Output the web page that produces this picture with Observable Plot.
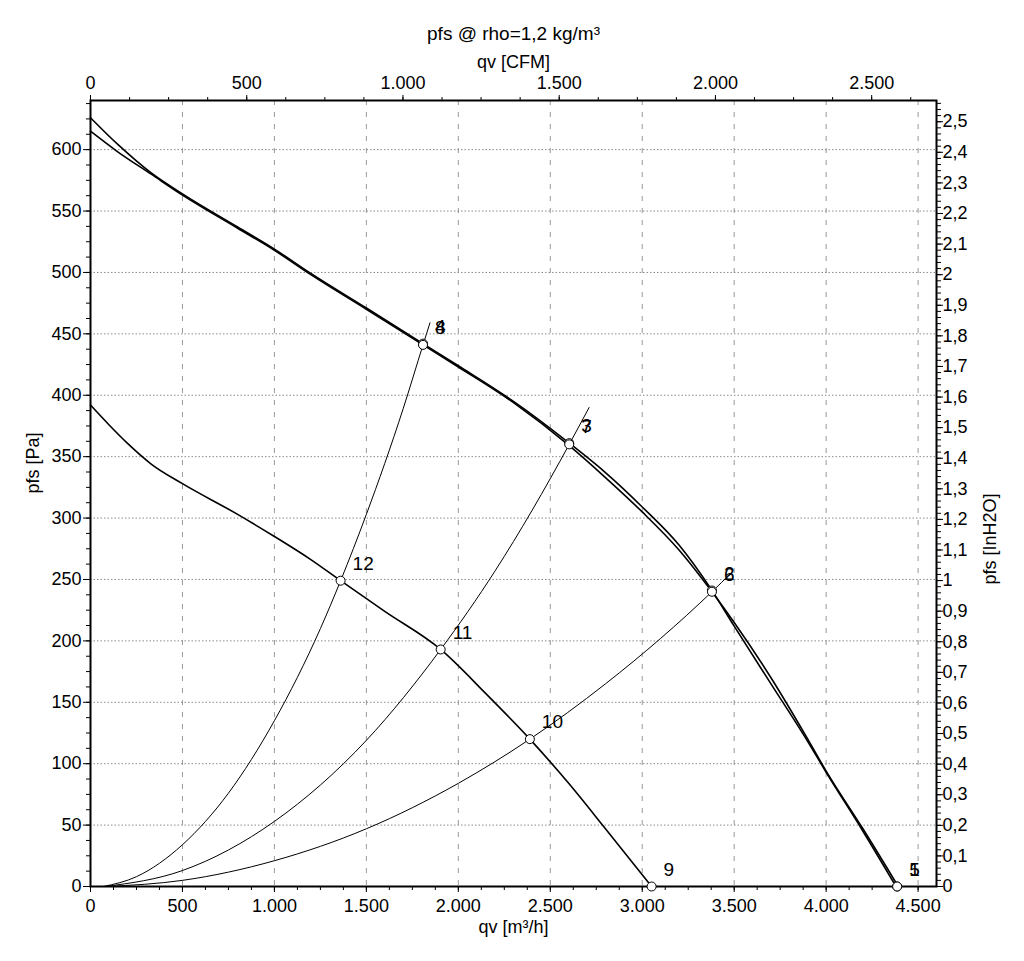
<!DOCTYPE html>
<html>
<head>
<meta charset="utf-8">
<script src="https://cdn.jsdelivr.net/npm/d3@7"></script>
<script src="https://cdn.jsdelivr.net/npm/@observablehq/plot@0.6"></script>
<style>
  html, body { margin: 0; padding: 0; background: #fff; }
</style>
</head>
<body>
<div id="chart"></div>
<script>
// ---- Data ----
const titleText = "pfs @ rho=1,2 kg/m³";
const topAxisLabel = "qv [CFM]";
const bottomAxisLabel = "qv [m³/h]";
const leftAxisLabel = "pfs [Pa]";
const rightAxisLabel = "pfs [InH2O]";

const qvTicks = [0, 500, 1000, 1500, 2000, 2500, 3000, 3500, 4000, 4500];
const cfmTicks = [0, 500, 1000, 1500, 2000, 2500];
const paTicks = [0, 50, 100, 150, 200, 250, 300, 350, 400, 450, 500, 550, 600];
const inH2OTicks = [0, 0.1, 0.2, 0.3, 0.4, 0.5, 0.6, 0.7, 0.8, 0.9, 1, 1.1, 1.2, 1.3, 1.4, 1.5, 1.6, 1.7, 1.8, 1.9, 2, 2.1, 2.2, 2.3, 2.4, 2.5];

// fan curve A (starts at 626 Pa)
const fanA = [[0,626],[150,604],[330,581],[500,564],[800,537],[1000,519],[1200,499],[1500,471],[1808,442],[2000,424],[2300,395],[2603,361],[2800,337],[3000,309],[3200,278],[3379,241],[3500,212],[3700,165],[3900,118],[4000,93],[4200,45],[4380,0]];
// fan curve B (starts at 615 Pa)
const fanB = [[0,615],[150,598],[330,580],[500,563],[800,536],[1000,518],[1200,498],[1500,470],[1808,441],[2000,423],[2300,394],[2603,359],[2800,333],[3000,305],[3200,274],[3379,240],[3500,215],[3700,170],[3900,120],[4000,94],[4200,47],[4392,0]];
// lower fan curve (starts at 392 Pa)
const fanLow = [[0,392],[100,376],[200,361],[330,344],[500,328],[800,303],[1000,285],[1200,266],[1360,249],[1600,224],[1904,193],[2150,157],[2389,120],[2600,84],[2800,47],[3051,0]];

// system curves
const sys1 = [[70,0],[250,8],[500,34],[750,76],[1000,135],[1250,210],[1360,249],[1500,303],[1700,389],[1808,441],[1846,459]];
const sys2 = [[80,0],[500,13],[1000,53],[1500,119],[1904,193],[2200,257],[2400,306],[2603,360],[2711,390]];
const sys3 = [[90,0],[500,5],[1000,21],[1500,47],[2000,84],[2389,120],[2800,165],[3100,202],[3379,240],[3482,255]];

// operating points
const pointIds = ["1","5","2","6","3","7","4","8","9","10","11","12"];
const pointQ   = [4386,4386,3379,3379,2603,2603,1808,1808,3051,2389,1904,1360];
const pointP   = [0,0,241,240,361,360,442,441,0,120,193,249];

// ---- Unit conversions ----
const M3H_PER_CFM = 1.699011;
const PA_PER_INH2O = 249.089;

const fmtDot = v => d3.format(",")(v).replace(/,/g, ".");
const fmtComma = v => String(Math.round(v * 10) / 10).replace(".", ",");

const points = pointIds.map((id, i) => ({id, q: pointQ[i], p: pointP[i]}));

const minorQ = d3.range(0, 4601, 125);
const minorCfm = d3.range(0, 2751, 125).map(c => c * M3H_PER_CFM).filter(v => v <= 4600);
const minorPa = d3.range(0, 640.1, 12.5);
const minorIn = d3.range(0, 2.57, 0.02).map(v => v * PA_PER_INH2O).filter(v => v <= 640);

const X = d => d[0], Y = d => d[1];

const chart = Plot.plot({
  width: 1024,
  height: 961,
  marginLeft: 90,
  marginRight: 88,
  marginTop: 100,
  marginBottom: 75,
  style: {fontFamily: "'Liberation Sans', Arial, sans-serif", fontSize: "18px", color: "#000", background: "#fff", overflow: "visible"},
  x: {domain: [0, 4600], axis: null},
  y: {domain: [0, 640], axis: null},
  marks: [
    // grid
    Plot.gridX(qvTicks.filter(d => d > 0), {stroke: "#999", strokeOpacity: 1, strokeDasharray: "5,7", strokeWidth: 1}),
    Plot.gridY(paTicks.filter(d => d > 0), {stroke: "#8a8a8a", strokeOpacity: 1, strokeDasharray: "1.5,2", strokeWidth: 1}),
    // axes - bottom
    Plot.axisX({anchor: "bottom", ticks: qvTicks, tickFormat: fmtDot, tickSize: 6, tickPadding: 7, label: null}),
    Plot.axisX({anchor: "bottom", ticks: minorQ, tickFormat: () => "", tickSize: 4, label: null}),
    // top (CFM)
    Plot.axisX({anchor: "top", ticks: cfmTicks.map(c => c * M3H_PER_CFM), tickFormat: d => fmtDot(Math.round(d / M3H_PER_CFM)), tickSize: 6, tickPadding: 6, label: null}),
    Plot.axisX({anchor: "top", ticks: minorCfm, tickFormat: () => "", tickSize: 4, label: null}),
    // left (Pa)
    Plot.axisY({anchor: "left", ticks: paTicks, tickSize: 7, tickPadding: 2, label: null}),
    Plot.axisY({anchor: "left", ticks: minorPa, tickFormat: () => "", tickSize: 4, label: null}),
    // right (inH2O)
    Plot.axisY({anchor: "right", ticks: inH2OTicks.map(v => v * PA_PER_INH2O), tickFormat: d => fmtComma(d / PA_PER_INH2O), tickSize: 6, tickPadding: 0, label: null}),
    Plot.axisY({anchor: "right", ticks: minorIn, tickFormat: () => "", tickSize: 4, label: null}),
    // frame
    Plot.frame({stroke: "#000", strokeWidth: 2}),
    // system curves
    Plot.line(sys1, {x: X, y: Y, curve: "monotone-x", stroke: "#000", strokeWidth: 1}),
    Plot.line(sys2, {x: X, y: Y, curve: "monotone-x", stroke: "#000", strokeWidth: 1}),
    Plot.line(sys3, {x: X, y: Y, curve: "monotone-x", stroke: "#000", strokeWidth: 1}),
    // fan curves
    Plot.line(fanA, {x: X, y: Y, curve: "monotone-x", stroke: "#000", strokeWidth: 1.6}),
    Plot.line(fanB, {x: X, y: Y, curve: "monotone-x", stroke: "#000", strokeWidth: 1.6}),
    Plot.line(fanLow, {x: X, y: Y, curve: "monotone-x", stroke: "#000", strokeWidth: 1.6}),
    // operating points
    Plot.dot(points, {x: "q", y: "p", r: 4.5, fill: "#fff", stroke: "#000", strokeWidth: 1}),
    Plot.text(points, {x: "q", y: "p", text: "id", dx: 12, dy: -17, textAnchor: "start", fontSize: 19, fill: "#000"}),
    // titles
    Plot.text([titleText], {frameAnchor: "top", dy: -74, fontSize: 19, fill: "#000"}),
    Plot.text([topAxisLabel], {frameAnchor: "top", dy: -45, fontSize: 18, fill: "#000"}),
    Plot.text([bottomAxisLabel], {frameAnchor: "bottom", dy: 46, fontSize: 18, fill: "#000"}),
    Plot.text([leftAxisLabel], {frameAnchor: "left", dx: -57, rotate: -90, fontSize: 18, fill: "#000"}),
    Plot.text([rightAxisLabel], {frameAnchor: "right", dx: 54, rotate: -90, fontSize: 18, fill: "#000"})
  ]
});
document.getElementById("chart").appendChild(chart);
</script>
</body>
</html>
